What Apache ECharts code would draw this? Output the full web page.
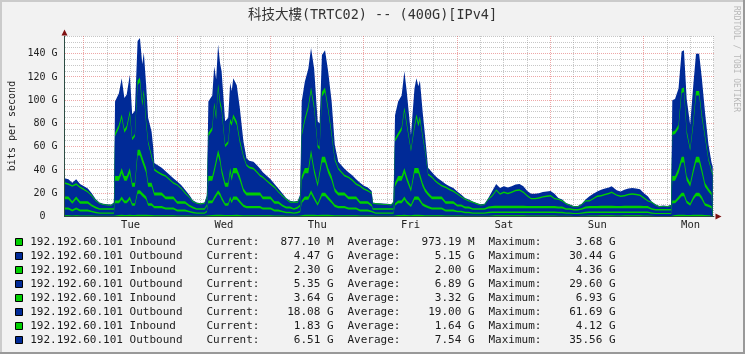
<!DOCTYPE html>
<html><head><meta charset="utf-8">
<script src="https://cdn.jsdelivr.net/npm/echarts@6/dist/echarts.min.js"></script>
<style>html,body{margin:0;padding:0;background:#F2F2F2}#c{width:745px;height:354px}</style>
</head><body><div id="c"></div>
<script>
// hours relative to Tuesday 00:00
const hours = [
-5,-4,-3,-2,-1,0,1,2,3,4,
5,6,7,7.7,8,9,9.7,10.4,11,11.8,
12.4,13.1,13.8,14.4,15,15.4,16,16.5,17.4,17.8,
18.1,19,20,21,22,23,24,25,26,27,
28,29,30,31,31.6,32,33,33.5,34,34.5,
35,35.4,36.3,37.1,37.6,38,38.4,39.3,40.1,41,
41.8,42.5,43.6,44.5,45.3,46,47,48,49,50,
51,52,53,54,55,55.6,56,56.8,57.7,58.4,
59.2,60.1,60.6,61.2,62,62.8,63.7,64.5,65.4,66.2,
67,68,69,70,71,72,73,73.5,74,74.3,
75,76,77,78,79,79.6,80,80.8,81.7,82.4,
83,84.1,85,85.5,86,86.4,87.1,87.7,88.5,89.5,
90.3,91,92,93,94,95,96,97,98,99,
100,101,102,103,104,105,105.7,106,107,108,
109,110,111,112,113,114,115,116,117,118,
119,119.5,120,121,122,123,124,125,126,127,
128,129,130,131,132,133,134,135,135.7,136,
137,138,139,140,141,142,143,144,145,146,
147,148,149,150,151,151.3,152,152.9,153.7,154.3,
155,155.9,156.7,157.4,158.2,158.9,159.7,160.6,161.4,161.7];

const in1 = [
1,1,.9,1,.9,.9,.9,.8,.7,.6,
.6,.6,.6,.6,1.3,1.3,1.4,1.3,1.3,1.4,
1.2,1.2,1.5,1.5,1.5,1.5,1.4,1.2,1.2,1.1,
1,1,1,1,1,1,.9,.9,.9,.8,
.7,.6,.6,.6,.8,1.3,1.3,1.4,1.4,1.5,
1.5,1.4,1.2,1.2,1.4,1.3,1.4,1.4,1.3,1.1,
1,1,1,1,1,1,1,1,.9,.9,
.8,.7,.7,.6,.7,.8,1.3,1.4,1.4,1.5,
1.4,1.2,1.2,1.5,1.5,1.4,1.3,1.1,1,1,
1,1,1,1,.9,.9,.9,.9,.8,.6,
.6,.6,.6,.6,.6,.6,1.2,1.3,1.3,1.4,
1.3,1.1,1.4,1.4,1.4,1.4,1.2,1.1,1,1,
1,1,1,.9,.9,.9,.8,.8,.7,.7,
.6,.6,.6,.6,.7,.9,1,1,1,1,
1,1,1,1,1,.9,.9,.9,.9,.9,
.9,1,.9,.9,.7,.7,.6,.6,.5,.5,
.6,.7,.9,.9,.9,1,1,1,1,1,
.9,.9,1,1,1,1,1,.9,.9,.6,
.5,.5,.5,.5,.5,1.3,1.3,1.4,1.5,1.5,
1.3,1.2,1.4,1.5,1.5,1.4,1.2,1.1,1,.9];

const out1 = [
5,5,3.5,5,3.5,3.5,3.5,2.8,2.2,1.8,
1.8,1.8,1.8,1.8,10,10,13,10,10,13,
8,8,18,18,16,16,13,8,8,7,
6,6,6,5,5,5,3.5,3.5,3.5,2.8,
2.2,1.8,1.8,1.8,2.8,10,10,13,13,18,
16,13,8,8,13,10,13,13,10,7,
6,6,6,6,6,5,5,5,3.5,3.5,
2.8,2.2,2.2,1.8,2.2,2.8,10,13,13,18,
13,8,8,16,16,13,10,7,6,6,
6,5,5,5,3.5,3.5,3.5,3.5,2.8,1.8,
1.8,1.8,1.8,1.8,1.8,1.8,8,10,10,13,
10,7,13,13,13,13,8,7,6,5,
5,5,5,3.5,3.5,3.5,2.8,2.8,2.2,2.2,
1.8,1.8,1.8,1.8,2.2,2.2,2,2,2,2,
2,2,2,2,2,2.2,2.2,2.2,2.2,2.2,
2.2,2,2.2,2.2,2.2,2.2,1.8,1.8,1.6,1.6,
1.8,2.2,2.2,2.2,2.2,2,2,2,2,2,
2.2,2.2,2,2,2,2,2,2.2,2.2,1.8,
1.6,1.6,1.6,1.6,1.6,10,10,13,16,16,
10,8,13,16,16,13,8,7,6,6];

const in2 = [
1.8,1.8,1.6,1.8,1.6,1.6,1.6,1.4,1.2,1,
1,1,1,1,2.5,2.5,2.8,2.5,2.5,2.8,
2.3,2.3,3,3,3,3,2.8,2.3,2.3,2.2,
2,2,2,1.8,1.8,1.8,1.6,1.6,1.6,1.4,
1.2,1,1,1,1.4,2.5,2.5,2.8,2.8,3,
3,2.8,2.3,2.3,2.8,2.5,2.8,2.8,2.5,2.2,
2,2,2,2,2,1.8,1.8,1.8,1.6,1.6,
1.4,1.2,1.2,1,1.2,1.4,2.5,2.8,2.8,3,
2.8,2.3,2.3,3,3,2.8,2.5,2.2,2,2,
2,1.8,1.8,1.8,1.6,1.6,1.6,1.6,1.4,1,
1,1,1,1,1,1,2.3,2.5,2.5,2.8,
2.5,2.2,2.8,2.8,2.8,2.8,2.3,2.2,2,1.8,
1.8,1.8,1.8,1.6,1.6,1.6,1.4,1.4,1.2,1.2,
1,1,1,1,1.2,1.2,1.2,1.2,1.2,1.2,
1.2,1.2,1.2,1.2,1.2,1.2,1.2,1.2,1.2,1.2,
1.2,1.2,1.2,1.2,1.2,1.2,1,1,.9,.9,
1,1.2,1.2,1.2,1.2,1.2,1.2,1.2,1.2,1.2,
1.2,1.2,1.2,1.2,1.2,1.2,1.2,1.2,1.2,1,
.9,.9,.9,.9,.9,2.5,2.5,2.8,3,3,
2.5,2.3,2.8,3,3,2.8,2.3,2.2,2,2];

const out2 = [
7,7,5,7,5,5,5,3.6,2.8,2.4,
2.4,2.4,2.4,2.4,17,17,20,17,17,20,
14,14,30,30,26,26,20,14,14,11,
9,9,9,7,7,7,5,5,5,3.6,
2.8,2.4,2.4,2.4,3.6,17,17,20,20,30,
26,20,14,14,20,17,20,20,17,11,
9,9,9,9,9,7,7,7,5,5,
3.6,2.8,2.8,2.4,2.8,3.6,17,20,20,30,
20,14,14,26,26,20,17,11,9,9,
9,7,7,7,5,5,5,5,3.6,2.4,
2.4,2.4,2.4,2.4,2.4,2.4,14,17,17,20,
17,11,20,20,20,20,14,11,9,7,
7,7,7,5,5,5,3.6,3.6,2.8,2.8,
2.4,2.4,2.4,2.4,2.8,2.8,3,3,3,3,
3,3,3,3,3,2.8,2.8,2.8,2.8,2.8,
2.8,3,2.8,2.8,2.8,2.8,2.4,2.4,2.2,2.2,
2.4,2.8,2.8,2.8,2.8,3,3,3,3,3,
2.8,2.8,3,3,3,3,3,2.8,2.8,2.4,
2.2,2.2,2.2,2.2,2.2,17,17,20,26,26,
17,14,20,26,26,20,14,11,9,9];

const in3 = [
2.4,2.4,2.1,2.4,2.1,2.1,2.1,1.8,1.6,1.4,
1.4,1.4,1.4,1.4,4,4,4.5,4,4,4.5,
3.5,3.5,5,5,5,5,4.5,3.5,3.5,3,
2.7,2.7,2.7,2.4,2.4,2.4,2.1,2.1,2.1,1.8,
1.6,1.4,1.4,1.4,1.8,4,4,4.5,4.5,5,
5,4.5,3.5,3.5,4.5,4,4.5,4.5,4,3,
2.7,2.7,2.7,2.7,2.7,2.4,2.4,2.4,2.1,2.1,
1.8,1.6,1.6,1.4,1.6,1.8,4,4.5,4.5,5,
4.5,3.5,3.5,5,5,4.5,4,3,2.7,2.7,
2.7,2.4,2.4,2.4,2.1,2.1,2.1,2.1,1.8,1.4,
1.4,1.4,1.4,1.4,1.4,1.4,3.5,4,4,4.5,
4,3,4.5,4.5,4.5,4.5,3.5,3,2.7,2.4,
2.4,2.4,2.4,2.1,2.1,2.1,1.8,1.8,1.6,1.6,
1.4,1.4,1.4,1.4,1.6,1.9,2,2,2,2,
2,2,2,2,2,1.9,1.9,1.9,1.9,1.9,
1.9,2,1.9,1.9,1.6,1.6,1.4,1.4,1.3,1.3,
1.4,1.6,1.9,1.9,1.9,2,2,2,2,2,
1.9,1.9,2,2,2,2,2,1.9,1.9,1.4,
1.3,1.3,1.3,1.3,1.3,4,4,4.5,5,5,
4,3.5,4.5,5,5,4.5,3.5,3,2.7,2.7];

const out3 = [
10.9,9.9,12.5,9.9,11.5,9.5,7.5,7.1,4.9,3.7,
2.7,2.2,2.0,3.7,34.2,41.2,42.8,37.2,40.2,45.8,
36.5,39.5,55.5,58,43.5,53.5,36.8,33.5,21.5,21.7,
18.7,16.7,14.7,16.9,13.9,10.9,13.5,10.5,6.5,6.1,
3.9,3.7,3.2,3.7,5.1,34.2,39.2,52.8,41.8,52.5,
44.5,48.8,30.5,33.5,38.8,43.2,42.8,36.8,28.2,26.7,
22.7,20.7,19.7,16.7,13.7,15.9,12.9,9.9,11.5,7.5,
7.1,5.9,3.4,4.7,3.4,6.1,34.2,39.8,50.8,49.5,
50.8,30.5,28.5,51.5,55.5,48.8,34.2,23.7,19.7,16.7,
13.7,15.9,13.4,9.9,12.5,10,8.5,8,9.1,3.7,
3.4,3.2,2.9,2.7,2.2,4.7,35.5,34.2,39.2,48.8,
43.2,31.7,33.8,42.8,35.8,40.8,38.5,31.7,14.7,15.9,
12.9,10.9,8.5,11.5,9.5,8,8.6,6.1,5.9,4.5,
4.7,3.4,2.2,2.7,5.9,8.3,11,13,9.5,11,
10,11,12.5,13,11,8.3,5.8,5.8,6.3,7.3,
7.8,8,8.3,5.8,5.9,4.5,3.4,2.0,1.5,1.5,
2.7,4.5,3.8,5.8,7.8,8,9,10,11,10,
8.8,7.8,8,9,9.5,9,8.5,6.3,3.8,4.7,
3.0,1.5,2.0,1.5,2.5,35.2,36.2,33.8,54.5,55.5,
36.2,27.5,36.8,52.5,52.5,42.8,38.5,23.7,17.7,14.7];

const in4 = [
1.4,1.4,1.2,1.4,1.2,1.2,1.2,1,.9,.7,
.7,.7,.7,.7,3,3,3.5,3,3,3.5,
2.5,2.5,4,4,4,4,3.5,2.5,2.5,2,
1.6,1.6,1.6,1.4,1.4,1.4,1.2,1.2,1.2,1,
.9,.7,.7,.7,1,3,3,3.5,3.5,4,
4,3.5,2.5,2.5,3.5,3,3.5,3.5,3,2,
1.6,1.6,1.6,1.6,1.6,1.4,1.4,1.4,1.2,1.2,
1,.9,.9,.7,.9,1,3,3.5,3.5,4,
3.5,2.5,2.5,4,4,3.5,3,2,1.6,1.6,
1.6,1.4,1.4,1.4,1.2,1.2,1.2,1.2,1,.7,
.7,.7,.7,.7,.7,.7,2.5,3,3,3.5,
3,2,3.5,3.5,3.5,3.5,2.5,2,1.6,1.4,
1.4,1.4,1.4,1.2,1.2,1.2,1,1,.9,.9,
.7,.7,.7,.7,.9,1.2,1.3,1.3,1.3,1.3,
1.3,1.3,1.3,1.3,1.3,1.2,1.2,1.2,1.2,1.2,
1.2,1.3,1.2,1.2,.9,.9,.7,.7,.6,.6,
.7,.9,1.2,1.2,1.2,1.3,1.3,1.3,1.3,1.3,
1.2,1.2,1.3,1.3,1.3,1.3,1.3,1.2,1.2,.7,
.6,.6,.6,.6,.6,3,3,3.5,4,4,
3,2.5,3.5,4,4,3.5,2.5,2,1.8,1.8];

const out4 = [
3.5,3.5,2.2,3.5,2.2,2.2,2.2,1.5,.7,.4,
.4,.4,.4,.4,27,27,31,27,27,31,
20,20,34,34,32,32,31,20,20,12,
5,5,5,3.5,3.5,3.5,2.2,2.2,2.2,1.5,
.7,.4,.4,.4,1.5,27,27,31,31,34,
32,31,20,20,31,27,31,31,27,12,
5,5,5,5,5,3.5,3.5,3.5,2.2,2.2,
1.5,.7,.7,.4,.7,1.5,27,31,31,34,
31,20,20,32,32,31,27,12,5,5,
5,3.5,3.5,3.5,2.2,2.2,2.2,2.2,1.5,.4,
.4,.4,.4,.4,.4,.4,20,27,27,31,
27,12,31,31,31,31,20,12,5,3.5,
3.5,3.5,3.5,2.2,2.2,2.2,1.5,1.5,.7,.7,
.4,.4,.4,.4,.7,3.5,4.5,4.5,4.5,4.5,
4.5,4.5,4.5,4.5,4.5,3.5,3.5,3.5,3.5,3.5,
3.5,4.5,3.5,3.5,.7,.7,.4,.4,.4,.4,
.4,.7,3.5,3.5,3.5,4.5,4.5,4.5,4.5,4.5,
3.5,3.5,4.5,4.5,4.5,4.5,4.5,3.5,3.5,.4,
.4,.4,.4,.4,.4,27,27,31,32,32,
27,20,31,32,32,31,20,12,6,6];

const dayTicks = [12,36,60,84,108,132,156];
const dayLabels = ['Tue','Wed','Thu','Fri','Sat','Sun','Mon'];
const xMajor = [0,24,48,72,96,120,144];
const xMinor = [6,12,18,30,36,42,54,60,66,78,84,90,102,108,114,126,132,138,150,156,162];
const yMajor = [20,40,60,80,100,120,140];
const yMinor = [5,10,15,25,30,35,45,50,55,65,70,75,85,90,95,105,110,115,125,130,135,145,150,155];

const legendNames = ['192.192.60.101 Inbound','192.192.60.101 Outbound','192.192.60.101 Inbound','192.192.60.101 Outbound',
  '192.192.60.101 Inbound','192.192.60.101 Outbound','192.192.60.101 Inbound','192.192.60.101 Outbound'];
const curVals = ['877.10 M','4.47 G','2.30 G','5.35 G','3.64 G','18.08 G','1.83 G','6.51 G'];
const avgVals = ['973.19 M','5.15 G','2.00 G','6.89 G','3.32 G','19.00 G','1.64 G','7.54 G'];
const maxVals = ['3.68 G','30.44 G','4.36 G','29.60 G','6.93 G','61.69 G','4.12 G','35.56 G'];

const GREEN = '#00CF00', BLUE = '#002A97';
const seriesValues = [in1, out1, in2, out2, in3, out3, in4, out4];
const seriesColors = [GREEN, BLUE, GREEN, BLUE, GREEN, BLUE, GREEN, BLUE];
const MONO = "'DejaVu Sans Mono', 'Noto Sans CJK TC', monospace";
const MINOR_C = 'rgba(143,143,143,0.5)';
const MAJOR_C = 'rgba(222,80,80,0.5)';

// stacked (cumulative) tops, RRDtool STACK semantics
const cumulative = [];
seriesValues.forEach((vals, k) => {
  cumulative.push(vals.map((v, j) => v + (k > 0 ? cumulative[k - 1][j] : 0)));
});

const series = [];
for (let k = seriesValues.length - 1; k >= 0; k--) {
  series.push({
    type:'line', name: legendNames[k], z: 2 + (seriesValues.length - k) * 0.01,
    data: hours.map((h, j) => [h, cumulative[k][j]]),
    symbol:'none', showSymbol:false, smooth:false, sampling:null,
    lineStyle:{width:0, opacity:0},
    itemStyle:{color: seriesColors[k]},
    areaStyle:{color: seriesColors[k], opacity:1, origin:'start'},
    animation:false, silent:true
  });
}

const graphics = [];
graphics.push({type:'rect', shape:{x:0,y:0,width:745,height:2}, style:{fill:'#CBCBCB'}, silent:true});
graphics.push({type:'rect', shape:{x:0,y:0,width:2,height:354}, style:{fill:'#CBCBCB'}, silent:true});
graphics.push({type:'rect', shape:{x:0,y:352,width:745,height:2}, style:{fill:'#999999'}, silent:true});
graphics.push({type:'rect', shape:{x:743,y:0,width:2,height:354}, style:{fill:'#999999'}, silent:true});
graphics.push({type:'polygon', shape:{points:[[61.5,35.5],[67.5,35.5],[64.5,29.5]]}, style:{fill:'#7F1010'}, silent:true, z:20});
graphics.push({type:'polygon', shape:{points:[[715.5,213.5],[715.5,219.5],[721.5,216.5]]}, style:{fill:'#7F1010'}, silent:true, z:20});
graphics.push({type:'text', x:12, y:126, rotation:Math.PI/2, silent:true,
  style:{text:'bits per second', font:"10px "+MONO, fill:'#222', align:'center', verticalAlign:'middle'}});
graphics.push({type:'text', x:736, y:59, rotation:-Math.PI/2, silent:true,
  style:{text:'RRDTOOL / TOBI OETIKER', font:"8px "+MONO, fill:'#B8B8B8', align:'center', verticalAlign:'middle'}});
const LF = "11px " + MONO;
for (let i = 0; i < legendNames.length; i++) {
  const y = 241.7 + 14.04 * i;
  graphics.push({type:'rect', shape:{x:15.5, y:Math.round(y)-3.5, width:7, height:7},
    style:{fill:seriesColors[i], stroke:'#000', lineWidth:1}, silent:true});
  const t = (x, s, align) => graphics.push({type:'text', x:x, y:y, silent:true,
    style:{text:s, font:LF, fill:'#1a1a1a', align:align, verticalAlign:'middle'}});
  t(30.2, legendNames[i], 'left');
  t(206.5, 'Current:', 'left');
  t(333.5, curVals[i], 'right');
  t(347.5, 'Average:', 'left');
  t(474.5, avgVals[i], 'right');
  t(488.5, 'Maximum:', 'left');
  t(615.5, maxVals[i], 'right');
}

const chart = echarts.init(document.getElementById('c'), null, {renderer:'canvas'});
const option = {
  animation:false,
  backgroundColor:'#F2F2F2',
  title:{text:'科技大樓(TRTC02) -- (400G)[IPv4]', left:'center', top:4,
    textStyle:{fontFamily:MONO, fontSize:13.5, fontWeight:'normal', color:'#333'}},
  grid:{left:64.5, right:31.1, top:36.3, bottom:137.5, show:true, backgroundColor:'#FFFFFF', borderWidth:0, containLabel:false},
  xAxis:{type:'value', min:-5, max:162, z:3,
    axisLine:{show:true, onZero:false, lineStyle:{color:'#2C4D43', width:1}},
    axisTick:{show:false}, splitLine:{show:false},
    axisLabel:{customValues:dayTicks, formatter:v => dayLabels[dayTicks.indexOf(v)] || '',
      fontFamily:MONO, fontSize:10.5, color:'#222', margin:4}},
  yAxis:{type:'value', min:0, max:155, interval:20, z:3,
    axisLine:{show:true, onZero:false, lineStyle:{color:'#2C4D43', width:1}},
    axisTick:{show:false}, splitLine:{show:false},
    axisLabel:{formatter:v => v === 0 ? '0  ' : (v % 20 === 0 ? v + ' G' : ''), showMaxLabel:false,
      fontFamily:MONO, fontSize:10, color:'#222', margin:7}},
  series: series,
  graphic: graphics
};
chart.setOption(option);

// dotted grid lines placed through the axes' own scales, snapped to pixel centres
const gridLines = [];
const topPx = chart.convertToPixel({gridIndex:0}, [0, 155])[1];
const botPx = chart.convertToPixel({gridIndex:0}, [0, 0])[1];
const leftPx = chart.convertToPixel({gridIndex:0}, [-5, 0])[0];
const rightPx = chart.convertToPixel({gridIndex:0}, [162, 0])[0];
function vline(h, color) {
  const x = Math.floor(chart.convertToPixel({gridIndex:0}, [h, 0])[0]) + 0.5;
  gridLines.push({type:'line', silent:true, z:1, shape:{x1:x, y1:Math.round(topPx), x2:x, y2:Math.round(botPx)},
    style:{stroke:color, lineWidth:1, lineDash:[1,1]}});
}
function hline(v, color) {
  const y = Math.floor(chart.convertToPixel({gridIndex:0}, [0, v])[1]) + 0.5;
  gridLines.push({type:'line', silent:true, z:1, shape:{x1:Math.round(leftPx), y1:y, x2:Math.round(rightPx), y2:y},
    style:{stroke:color, lineWidth:1, lineDash:[1,1]}});
}
xMinor.forEach(h => vline(h, MINOR_C));
yMinor.forEach(v => hline(v, MINOR_C));
xMajor.forEach(h => vline(h, MAJOR_C));
yMajor.forEach(v => hline(v, MAJOR_C));
chart.setOption({graphic: graphics.concat(gridLines)}, {replaceMerge:['graphic']});
</script></body></html>
